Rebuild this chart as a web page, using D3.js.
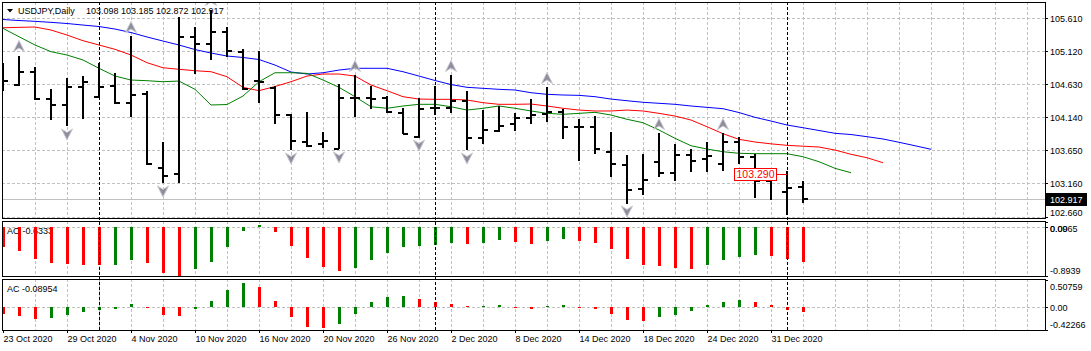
<!DOCTYPE html>
<html>
<head>
<meta charset="utf-8">
<script src="https://cdn.jsdelivr.net/npm/d3@7"></script>
<style>
  body { margin: 0; background: #fff; }
  svg text { font-family: "Liberation Sans", Arial, sans-serif; font-size: 9px; fill: #000; }
</style>
</head>
<body>
<div id="chart"></div>
<script>
/* USDJPY Daily - bars, Alligator, Fractals, AO and AC */

// daily OHLC, 23 Oct 2020 .. 5 Jan 2021
const open = [104.716, 104.612, 104.805, 104.405, 104.316, 104.583, 104.434, 104.598, 104.345, 104.479,
  103.382, 103.293, 105.324, 105.220, 105.398, 105.102, 104.672, 104.568, 104.168, 103.767,
  103.738, 103.664, 104.420, 104.420, 104.420, 104.197, 103.841, 104.271, 104.271, 104.375,
  103.827, 103.930, 104.034, 104.123, 104.182, 104.212, 103.990, 103.990, 103.619, 103.426,
  103.071, 103.471, 103.308, 103.575, 103.515, 103.441, 103.767, 103.545, 103.189, 103.026, 103.098];
const high = [104.924, 105.042, 104.879, 104.553, 104.716, 104.731, 104.938, 104.790, 105.324, 104.523,
  103.753, 105.620, 105.472, 105.724, 105.472, 105.146, 105.102, 104.583, 104.168, 104.212,
  103.901, 104.627, 104.746, 104.583, 104.449, 104.271, 104.405, 104.583, 104.746, 104.523,
  104.227, 104.301, 104.197, 104.390, 104.568, 104.242, 104.108, 104.138, 103.901, 103.560,
  103.589, 103.886, 103.723, 103.649, 103.753, 103.886, 103.827, 103.575, 103.308, 103.337, 103.185];
const low = [104.538, 104.612, 104.390, 104.108, 104.005, 104.123, 104.434, 104.345, 104.138, 103.441,
  103.160, 103.174, 104.790, 104.983, 105.042, 104.553, 104.360, 104.049, 103.649, 103.708,
  103.693, 103.664, 104.138, 104.257, 104.212, 103.886, 103.841, 104.168, 104.212, 103.649,
  103.738, 103.916, 103.945, 104.049, 104.064, 103.812, 103.486, 103.604, 103.249, 102.863,
  102.982, 103.249, 103.204, 103.337, 103.337, 103.352, 103.456, 102.952, 102.922, 102.700, 102.872];
const close = [104.672, 104.805, 104.405, 104.316, 104.583, 104.657, 104.583, 104.345, 104.464, 103.441,
  103.263, 105.324, 105.220, 105.398, 105.116, 104.553, 104.657, 104.168, 103.782, 103.708,
  103.782, 104.420, 104.420, 104.405, 104.212, 103.886, 104.257, 104.271, 104.375, 103.827,
  103.945, 104.005, 104.123, 104.168, 104.212, 103.990, 103.990, 103.664, 103.441, 103.056,
  103.204, 103.308, 103.575, 103.486, 103.560, 103.767, 103.545, 103.189, 103.249, 103.085, 102.917];

// Alligator lines (already shifted forward 8 / 5 / 3 bars)
const jaw = [105.583, 105.568, 105.556, 105.541, 105.524, 105.501, 105.479, 105.442, 105.390, 105.324,
  105.264, 105.205, 105.138, 105.086, 105.042, 105.020, 104.990, 104.908, 104.805, 104.775,
  104.794, 104.834, 104.860, 104.860, 104.860, 104.809, 104.745, 104.679, 104.619, 104.578,
  104.563, 104.548, 104.538, 104.498, 104.474, 104.464, 104.459, 104.439, 104.404, 104.379,
  104.356, 104.341, 104.326, 104.301, 104.281, 104.261, 104.204, 104.133, 104.078, 104.019,
  103.979, 103.938, 103.896, 103.878, 103.846, 103.812, 103.763, 103.712, 103.659];
const teeth = [105.461, 105.467, 105.472, 105.427, 105.353, 105.269, 105.205, 105.141, 105.057, 104.943,
  104.868, 104.845, 104.824, 104.809, 104.735, 104.578, 104.528, 104.590, 104.661, 104.745,
  104.775, 104.775, 104.745, 104.612, 104.528, 104.439, 104.404, 104.400, 104.400, 104.390,
  104.350, 104.326, 104.326, 104.330, 104.301, 104.267, 104.241, 104.227, 104.227, 104.241,
  104.227, 104.192, 104.152, 104.093, 103.994, 103.890, 103.807, 103.767, 103.740, 103.718,
  103.705, 103.693, 103.648, 103.585, 103.534, 103.460];
const lips = [105.452, 105.328, 105.205, 105.106, 105.057, 104.983, 104.860, 104.745, 104.686, 104.676,
  104.661, 104.671, 104.548, 104.316, 104.323, 104.449, 104.661, 104.794, 104.794, 104.785,
  104.686, 104.578, 104.439, 104.290, 104.267, 104.301, 104.326, 104.326, 104.290, 104.241,
  104.267, 104.301, 104.267, 104.227, 104.192, 104.178, 104.192, 104.207, 104.167, 104.104,
  104.053, 103.945, 103.822, 103.712, 103.663, 103.623, 103.600, 103.594, 103.594, 103.594,
  103.549, 103.475, 103.377, 103.312];

const upFractals = [1, 8, 13, 22, 28, 34, 41, 45];
const downFractals = [4, 10, 18, 21, 26, 29, 39];

const ao = [-0.356, -0.429, -0.582, -0.649, -0.673, -0.692, -0.695, -0.685, -0.600, -0.649,
  -0.833, -0.8939, -0.765, -0.631, -0.356, -0.062, 0.045, -0.092, -0.338, -0.558,
  -0.723, -0.796, -0.741, -0.600, -0.466, -0.367, -0.345, -0.325, -0.282, -0.306,
  -0.282, -0.233, -0.264, -0.306, -0.251, -0.215, -0.251, -0.288, -0.398, -0.582,
  -0.692, -0.710, -0.752, -0.765, -0.692, -0.600, -0.545, -0.508, -0.527, -0.582, -0.6333];
const ac = [-0.136, -0.173, -0.229, -0.205, -0.154, -0.093, -0.061, -0.037, 0.056, -0.015,
  -0.154, -0.173, -0.043, 0.106, 0.311, 0.435, 0.372, 0.106, -0.186, -0.372,
  -0.402, -0.322, -0.136, 0.082, 0.180, 0.199, 0.138, 0.082, 0.045, 0.019,
  0.022, 0.032, -0.008, -0.048, 0.020, 0.037, -0.008, -0.037, -0.136, -0.242,
  -0.266, -0.186, -0.154, -0.074, 0.026, 0.082, 0.125, 0.082, 0.032, -0.061, -0.08954];

const priceTicks = [105.610, 105.120, 104.630, 104.140, 103.650, 103.160, 102.660];
const aoTicks = [0.0965, 0, -0.8939];
const acTicks = [0.50759, 0, -0.42266];
const dateIdx = [0, 4, 8, 12, 16, 20, 24, 28, 32, 36, 40, 44, 48];
const dateLabels = ["23 Oct 2020", "29 Oct 2020", "4 Nov 2020", "10 Nov 2020", "16 Nov 2020", "20 Nov 2020",
  "26 Nov 2020", "2 Dec 2020", "8 Dec 2020", "14 Dec 2020", "18 Dec 2020", "24 Dec 2020", "31 Dec 2020"];
const monthStarts = [6, 27, 49];
const lastPrice = 102.917;
const priceLabel = { index: 49, price: 103.290 };

// layout
const width = 1091, height = 351;
const left = 2, right = 1045;
const panels = {
  main: { top: 2, bottom: 218 },
  ao: { top: 221, bottom: 276 },
  ac: { top: 279, bottom: 330 }
};
const red = "#ff0000", green = "#008000", grid = "#c0c0c0";

const svg = d3.select("#chart").append("svg")
  .attr("width", width).attr("height", height);

const x = d3.scaleLinear().domain([0, 1]).range([3, 19]); // 16px per bar
const y = d3.scaleLinear().domain([102.66, 105.61]).range([216.7, 17.7]);
const yAO = d3.scaleLinear().domain([-0.8939, 0.0965]).range([276, 222]);
const yAC = d3.scaleLinear().domain([-0.42266, 0.50759]).range([329.5, 279.5]);

// clip paths
const defs = svg.append("defs");
for (const [k, p] of Object.entries(panels)) {
  defs.append("clipPath").attr("id", "clip-" + k)
    .append("rect").attr("x", left + 1).attr("y", p.top + 1)
    .attr("width", right - left - 1).attr("height", p.bottom - p.top - 1);
}

const gMain = svg.append("g").attr("clip-path", "url(#clip-main)");
const gAO = svg.append("g").attr("clip-path", "url(#clip-ao)");
const gAC = svg.append("g").attr("clip-path", "url(#clip-ac)");

// vertical grid, every 2 bars, in all three panels
const vGrid = d3.range(2, 65, 2);
for (const [g, p] of [[gMain, panels.main], [gAO, panels.ao], [gAC, panels.ac]]) {
  g.append("g").selectAll("line").data(vGrid).join("line")
    .attr("x1", d => x(d) + 0.5).attr("x2", d => x(d) + 0.5)
    .attr("y1", p.top).attr("y2", p.bottom)
    .attr("stroke", grid).attr("stroke-dasharray", "3,2");
}

// horizontal grid in price panel
gMain.append("g").selectAll("line").data(priceTicks).join("line")
  .attr("x1", left).attr("x2", right)
  .attr("y1", d => Math.round(y(d)) + 0.5).attr("y2", d => Math.round(y(d)) + 0.5)
  .attr("stroke", grid).attr("stroke-dasharray", "3,2");

// zero lines
gAO.append("line").attr("x1", left).attr("x2", right)
  .attr("y1", Math.round(yAO(0)) + 0.5).attr("y2", Math.round(yAO(0)) + 0.5)
  .attr("stroke", grid).attr("stroke-dasharray", "3,2");
gAC.append("line").attr("x1", left).attr("x2", right)
  .attr("y1", Math.round(yAC(0)) + 0.5).attr("y2", Math.round(yAC(0)) + 0.5)
  .attr("stroke", grid).attr("stroke-dasharray", "3,2");

// last price line
gMain.append("line").attr("x1", left).attr("x2", right)
  .attr("y1", Math.round(y(lastPrice)) + 0.5).attr("y2", Math.round(y(lastPrice)) + 0.5)
  .attr("stroke", grid);

// indicator labels (under the bars)
gAO.append("text").attr("x", 7).attr("y", 231).attr("dy", "0.35em").text("AO -0.6333");
gAC.append("text").attr("x", 7).attr("y", 289).attr("dy", "0.35em").text("AC -0.08954");

// alligator
const line = scale => d3.line().x((d, i) => x(i)).y(d => scale(d));
[[jaw, "#0000ff"], [teeth, red], [lips, green]].forEach(([data, c]) => {
  gMain.append("path").datum(data)
    .attr("d", line(y))
    .attr("fill", "none").attr("stroke", c).attr("stroke-width", 1);
});

// OHLC bars
const idx = d3.range(close.length);
const gBars = gMain.append("g").attr("stroke", "#000").attr("stroke-width", 2)
  .attr("shape-rendering", "crispEdges");
gBars.selectAll(".hl").data(idx).join("line")
  .attr("x1", i => x(i)).attr("x2", i => x(i))
  .attr("y1", i => y(high[i]) - 0.5).attr("y2", i => y(low[i]) + 0.5);
gBars.selectAll(".op").data(idx).join("line")
  .attr("x1", i => x(i) - 5).attr("x2", i => x(i))
  .attr("y1", i => y(open[i])).attr("y2", i => y(open[i]));
gBars.selectAll(".cl").data(idx).join("line")
  .attr("x1", i => x(i)).attr("x2", i => x(i) + 5)
  .attr("y1", i => y(close[i])).attr("y2", i => y(close[i]));

// fractals
const arrowUp = "M0,-6 L5.5,5 L0,1.5 L-5.5,5 Z";
const arrowDown = "M0,6 L5.5,-5 L0,-1.5 L-5.5,-5 Z";
gMain.append("g").selectAll("path").data(upFractals).join("path")
  .attr("d", arrowUp)
  .attr("transform", i => `translate(${x(i)},${y(high[i]) - 9.5})`)
  .attr("fill", "#8e8e9a").attr("stroke", "#c8c8d4").attr("stroke-width", 1);
gMain.append("g").selectAll("path").data(downFractals).join("path")
  .attr("d", arrowDown)
  .attr("transform", i => `translate(${x(i)},${y(low[i]) + 8})`)
  .attr("fill", "#8e8e9a").attr("stroke", "#c8c8d4").attr("stroke-width", 1);

// price label object
const plx = x(priceLabel.index), ply = y(priceLabel.price);
gMain.append("line").attr("x1", plx - 10).attr("x2", plx)
  .attr("y1", Math.round(ply) + 0.5).attr("y2", Math.round(ply) + 0.5).attr("stroke", red);
gMain.append("rect").attr("x", plx - 52.5).attr("y", Math.round(ply) - 5.5)
  .attr("width", 42).attr("height", 12).attr("fill", "#fff").attr("stroke", red);
gMain.append("text").attr("x", plx - 31.5).attr("y", Math.round(ply) + 0.5)
  .attr("dy", "0.35em").attr("text-anchor", "middle")
  .style("font-size", "10.5px").style("fill", red).text(priceLabel.price.toFixed(3));

// AO / AC histograms: green when rising, red otherwise
function histogram(g, values, scale) {
  g.append("g").attr("shape-rendering", "crispEdges")
    .selectAll("rect").data(values).join("rect")
    .attr("x", (d, i) => x(i) - 1)
    .attr("width", 3)
    .attr("y", d => Math.min(scale(0), scale(d)))
    .attr("height", d => Math.max(1, Math.abs(scale(d) - scale(0))))
    .attr("fill", (d, i) => i > 0 && d > values[i - 1] ? green : red);
}
histogram(gAO, ao, yAO);
histogram(gAC, ac, yAC);

// month separators
svg.append("g").selectAll("line").data(monthStarts).join("line")
  .attr("x1", i => x(i) + 0.5).attr("x2", i => x(i) + 0.5)
  .attr("y1", panels.main.top).attr("y2", panels.ac.bottom)
  .attr("stroke", "#000").attr("stroke-dasharray", "3,2");

// frames
for (const p of Object.values(panels)) {
  svg.append("rect").attr("x", left + 0.5).attr("y", p.top + 0.5)
    .attr("width", right - left).attr("height", p.bottom - p.top)
    .attr("fill", "none").attr("stroke", "#000");
}

// right scales
function rightScale(ticks, scale, p, fmt) {
  const g = svg.append("g");
  g.selectAll("line").data(ticks).join("line")
    .attr("x1", right).attr("x2", right + 3)
    .attr("y1", d => Math.round(scale(d)) + 0.5).attr("y2", d => Math.round(scale(d)) + 0.5)
    .attr("stroke", "#000");
  g.selectAll("text").data(ticks).join("text")
    .attr("x", right + 5)
    .attr("y", d => Math.max(p.top + 8, Math.min(p.bottom - 5, scale(d) + 1)))
    .attr("dy", "0.35em")
    .text(fmt);
}
rightScale(priceTicks, y, panels.main, d => d.toFixed(3));
rightScale(aoTicks, yAO, panels.ao, d => d === 0 ? "0.00" : d.toFixed(4));
rightScale(acTicks, yAC, panels.ac, d => d === 0 ? "0.00" : d.toFixed(5));

// last price marker
const lpy = Math.round(y(lastPrice));
svg.append("rect").attr("x", right + 1).attr("y", lpy - 6)
  .attr("width", 41).attr("height", 13).attr("fill", "#000");
svg.append("text").attr("x", right + 5).attr("y", lpy + 0.5).attr("dy", "0.35em")
  .style("fill", "#fff").text(lastPrice.toFixed(3));

// time axis
svg.append("g")
  .attr("transform", `translate(0,${panels.ac.bottom})`)
  .call(d3.axisBottom(x).tickValues(dateIdx).tickSize(3).tickFormat((d, i) => dateLabels[i]))
  .call(g => g.select(".domain").remove())
  .call(g => g.selectAll("text").attr("text-anchor", "start").attr("x", 0).attr("y", 6)
    .style("font-family", "'Liberation Sans', Arial, sans-serif").style("font-size", "9px"));

// title
svg.append("path").attr("d", "M7,9 L13,9 L10,12.5 Z").attr("fill", "#000");
svg.append("text").attr("x", 18).attr("y", 10.5).attr("dy", "0.35em").text("USDJPY,Daily");
svg.append("text").attr("x", 86).attr("y", 10.5).attr("dy", "0.35em")
  .text([open[50], high[50], low[50], close[50]].map(d => d.toFixed(3)).join(" "));
</script>
</body>
</html>
